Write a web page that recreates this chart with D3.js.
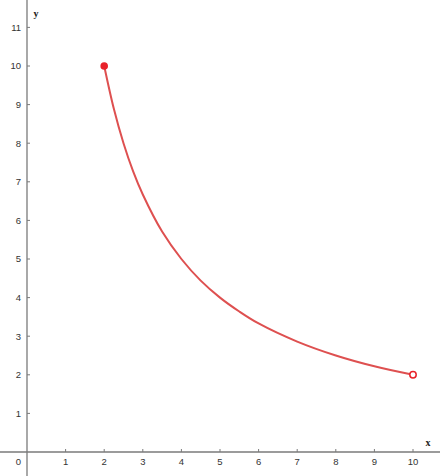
<!DOCTYPE html>
<html>
<head>
<meta charset="utf-8">
<script src="https://cdn.jsdelivr.net/npm/d3@7"></script>
<style>
  body { margin: 0; background: #fff; }
  svg { display: block; }
</style>
</head>
<body>
<script>
var width = 440,
    height = 476;

// values
var curveX = [2, 2.25, 2.5, 2.75, 3, 3.5, 4, 4.5, 5, 5.5, 6, 7, 8, 9, 10];
var curveY = [10, 8.89, 8, 7.27, 6.67, 5.71, 5, 4.44, 4, 3.64, 3.33, 2.86, 2.5, 2.22, 2];
var xTicks = [1, 2, 3, 4, 5, 6, 7, 8, 9, 10];
var yTicks = [1, 2, 3, 4, 5, 6, 7, 8, 9, 10, 11];
var startPoint = [2, 10];   // closed end
var endPoint = [10, 2];     // open end

var x = d3.scaleLinear().domain([0, 10]).range([27, 413]);
var y = d3.scaleLinear().domain([0, 10]).range([452, 66]);

var labelFont = "9.5px Arial, 'Liberation Sans', sans-serif";

var svg = d3.select("body").append("svg")
    .attr("width", width)
    .attr("height", height);

// axes lines
svg.append("line")
    .attr("x1", 0).attr("x2", width)
    .attr("y1", y(0)).attr("y2", y(0))
    .attr("stroke", "#7a7a7a").attr("stroke-width", 1.3);
svg.append("line")
    .attr("x1", x(0)).attr("x2", x(0))
    .attr("y1", 0).attr("y2", height)
    .attr("stroke", "#7a7a7a").attr("stroke-width", 1.3);

// x ticks
var xt = svg.selectAll(".xt").data(xTicks).enter().append("g")
    .attr("transform", function (d) { return "translate(" + x(d) + "," + y(0) + ")"; });
xt.append("line").attr("y1", -3).attr("y2", 0).attr("stroke", "#7a7a7a");
xt.append("text").attr("y", 13).attr("text-anchor", "middle")
    .style("font", labelFont).attr("fill", "#333")
    .text(function (d) { return d; });

// y ticks
var yt = svg.selectAll(".yt").data(yTicks).enter().append("g")
    .attr("transform", function (d) { return "translate(" + x(0) + "," + y(d) + ")"; });
yt.append("line").attr("x1", 0).attr("x2", 3).attr("stroke", "#7a7a7a");
yt.append("text").attr("x", -6).attr("dy", "0.35em").attr("text-anchor", "end")
    .style("font", labelFont).attr("fill", "#333")
    .text(function (d) { return d; });

// origin label
svg.append("text").attr("x", x(0) - 6).attr("y", y(0) + 13).attr("text-anchor", "end")
    .style("font", labelFont).attr("fill", "#333")
    .text("0");

// axis names
svg.append("text").attr("x", 428).attr("y", 446).attr("text-anchor", "middle")
    .style("font", "bold 10px 'Liberation Serif', 'Times New Roman', serif").attr("fill", "#222")
    .text("x");
svg.append("text").attr("x", 36).attr("y", 17).attr("text-anchor", "middle")
    .style("font", "bold 10px 'Liberation Serif', 'Times New Roman', serif").attr("fill", "#222")
    .text("y");

// the curve
var pts = curveX.map(function (d, i) { return [d, curveY[i]]; });
var line = d3.line()
    .x(function (d) { return x(d[0]); })
    .y(function (d) { return y(d[1]); })
    .curve(d3.curveCatmullRom);

svg.append("path")
    .datum(pts)
    .attr("d", line)
    .attr("fill", "none")
    .attr("stroke", "#de5050")
    .attr("stroke-width", 2);

// endpoints
svg.append("circle")
    .attr("cx", x(startPoint[0])).attr("cy", y(startPoint[1]))
    .attr("r", 3.8)
    .attr("fill", "#e8222a");
svg.append("circle")
    .attr("cx", x(endPoint[0])).attr("cy", y(endPoint[1]))
    .attr("r", 3.2)
    .attr("fill", "#fff")
    .attr("stroke", "#e8222a")
    .attr("stroke-width", 1.5);
</script>
</body>
</html>
